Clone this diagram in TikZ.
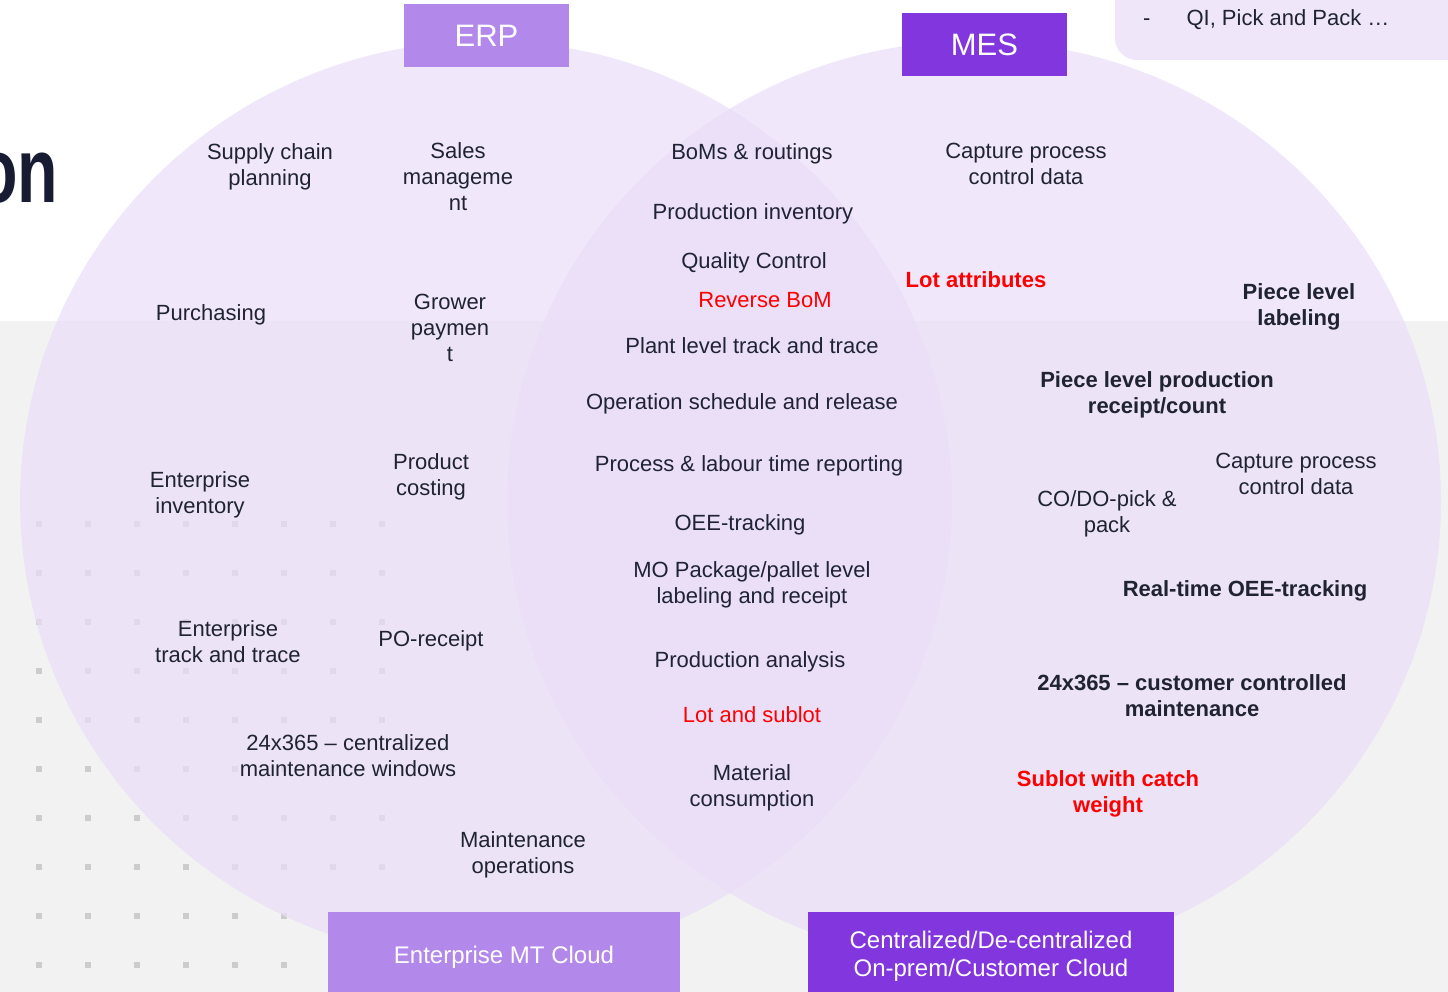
\documentclass[tikz,border=0pt]{standalone}
\usepackage{graphicx}
\usepackage{fontspec}
\setmainfont{Liberation Sans}
\definecolor{txt}{HTML}{1F2333}
\definecolor{erpc}{HTML}{B388EB}
\definecolor{mesc}{HTML}{8236DD}
\definecolor{circc}{RGB}{234,222,248}
\definecolor{grayb}{HTML}{F2F2F2}
\definecolor{dotc}{HTML}{CCCCCC}
\definecolor{notec}{HTML}{EFE6FA}
\definecolor{redt}{HTML}{FF0000}
\definecolor{titlec}{HTML}{171C33}
\begin{document}
\begin{tikzpicture}[x=1pt,y=-1pt,
 lbl/.style={font=\fontsize{22}{26}\selectfont, text=txt, align=center, inner sep=0pt, yshift=-2pt},
 lblb/.style={lbl, font=\fontsize{22}{26}\selectfont\bfseries},
 redl/.style={text=redt},
 hdr/.style={rectangle, inner sep=0pt, text=white, font=\fontsize{31}{36}\selectfont, minimum width=165pt, minimum height=63pt},
 cloud/.style={rectangle, inner sep=0pt, text=white, align=center, font=\fontsize{24}{28}\selectfont},
 venn/.style={fill=circc, fill opacity=0.7},
 dotsq/.style={fill=dotc}
]
\useasboundingbox (0,0) rectangle (1448,992);
\fill[white] (0,0) rectangle (1448,992);
\fill[grayb] (0,321) rectangle (1448,992);
\foreach \i in {0,...,7} \foreach \j in {0,...,9} \fill[dotsq] ({36+49*\i},{521+49*\j}) rectangle ++(6,6);

% Venn circles
\fill[venn] (486,501) ellipse [x radius=466pt, y radius=460pt];
\fill[venn] (974,501) ellipse [x radius=467pt, y radius=460pt];

% note box (top right)
\fill[notec, rounded corners=22pt] (1115,-40) rectangle (1500,60);
\node[lbl, anchor=west, align=left] (note) at (1143,18) {-\hspace{36pt}QI, Pick and Pack …};

% cut title
\node[font=\fontsize{92}{100}\selectfont\bfseries, text=titlec, anchor=base east, inner sep=0pt] (title) at (58.5,203) {\scalebox{0.72}[1]{on}};

% headers
\node[hdr, fill=erpc] (erp) at (486.5,35.5) {ERP};
\node[hdr, fill=mesc] (mes) at (984.5,44.5) {MES};

% bottom boxes
\node[cloud, fill=erpc, minimum width=352pt, minimum height=90pt] (emt) at (504,957) {Enterprise MT Cloud};
\node[cloud, fill=mesc, minimum width=366pt, minimum height=88pt] (onprem) at (991,956) {Centralized/De-centralized\\On-prem/Customer Cloud};

% ERP only
\node[lbl] (scp) at (270,165) {Supply chain\\planning};
\node[lbl] (sales) at (458,175) {Sales\\manageme\\nt};
\node[lbl] (purch) at (211,313) {Purchasing};
\node[lbl] (grow) at (450,326) {Grower\\paymen\\t};
\node[lbl] (einv) at (200,493) {Enterprise\\inventory};
\node[lbl] (pcost) at (431,475) {Product\\costing};
\node[lbl] (etrack) at (228,640) {Enterprise\\track and trace};
\node[lbl] (por) at (431,639) {PO-receipt};
\node[lbl] (cmaint) at (348,754) {24x365 – centralized\\maintenance windows};
\node[lbl] (mops) at (523,853) {Maintenance\\operations};

% shared (lens)
\node[lbl] (bom) at (752,152) {BoMs \& routings};
\node[lbl] (pinv) at (753,212) {Production inventory};
\node[lbl] (qc) at (754,261) {Quality Control};
\node[lbl, redl] (rbom) at (765,298) {Reverse BoM};
\node[lbl] (pltt) at (752,344) {Plant level track and trace};
\node[lbl] (osr) at (742,402) {Operation schedule and release};
\node[lbl] (pltr) at (749,464) {Process \& labour time reporting};
\node[lbl] (oee) at (740,523) {OEE-tracking};
\node[lbl] (mopk) at (752,583) {MO Package/pallet level\\labeling and receipt};
\node[lbl] (pan) at (750,660) {Production analysis};
\node[lbl, redl] (lot) at (752,713) {Lot and sublot};
\node[lbl] (mcons) at (752,786) {Material\\consumption};

% MES only
\node[lbl] (cpc1) at (1026,162) {Capture process\\control data};
\node[lblb, redl] (lattr) at (976,278) {Lot attributes};
\node[lblb] (pll) at (1299,305) {Piece level\\labeling};
\node[lblb] (plpr) at (1157,393) {Piece level production\\receipt/count};
\node[lbl] (cpc2) at (1296,472) {Capture process\\control data};
\node[lbl] (codo) at (1107,512) {CO/DO-pick \&\\pack};
\node[lblb] (rtoee) at (1245,589) {Real-time OEE-tracking};
\node[lblb] (cmaint2) at (1192,694) {24x365 – customer controlled\\maintenance};
\node[lblb, redl] (sublot) at (1108,792) {Sublot with catch\\weight};
\end{tikzpicture}
\end{document}
